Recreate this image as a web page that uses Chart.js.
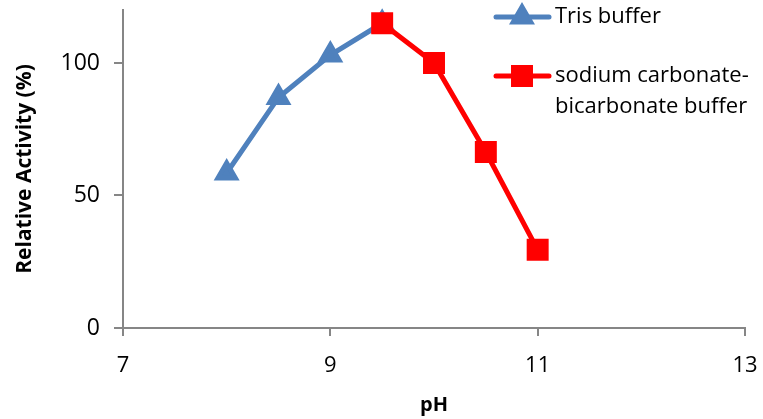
<!DOCTYPE html>
<html>
<head>
<meta charset="utf-8">
<script src="https://cdn.jsdelivr.net/npm/chart.js@4.4.0/dist/chart.umd.min.js"></script>
<style>
    html, body { margin: 0; padding: 0; background: #fff; }
    #wrap { width: 763px; height: 419px; position: relative; }
</style>
</head>
<body>
<div id="wrap"><canvas id="chartPH"></canvas></div>
<script>
// datos
const trisPH = [8, 8.5, 9, 9.5];
const trisActividad = [58.5, 87, 103, 115];
const carbPH = [9.5, 10, 10.5, 11];
const carbActividad = [115, 100, 66.4, 29.5];
const xTicks = [7, 9, 11, 13];
const yTicks = [0, 50, 100];
const etiquetas = ['Tris buffer', 'sodium carbonate-\nbicarbonate buffer'];

const FUENTE = '"Open Sans", Lato, sans-serif';
const GRIS = '#868686';

// leyenda dibujada dentro del area del grafico
const leyendaPlugin = {
    id: 'leyendaInterna',
    afterDraw(chart) {
        const ctx = chart.ctx;
        const filas = [17, 76];
        ctx.save();
        chart.data.datasets.forEach((ds, i) => {
            const y = filas[i];
            ctx.strokeStyle = ds.borderColor;
            ctx.lineWidth = 5;
            ctx.lineCap = 'round';
            ctx.beginPath();
            ctx.moveTo(496, y);
            ctx.lineTo(549, y);
            ctx.stroke();
            Chart.helpers.drawPoint(ctx, {
                pointStyle: ds.pointStyle,
                radius: ds.pointRadius,
                borderWidth: 1
            }, 522, y);
            ctx.fillStyle = ds.pointBackgroundColor;
            ctx.fill();
            ctx.fillStyle = '#000';
            ctx.font = '22px ' + FUENTE;
            ctx.textBaseline = 'middle';
            ds.label.split('\n').forEach((linea, j) => {
                ctx.fillText(linea, 555, y + j * 31);
            });
        });
        ctx.restore();
    }
};

new Chart(document.getElementById('chartPH'), {
    type: 'line',
    data: {
        datasets: [
            {
                label: etiquetas[0],
                data: trisPH.map((x, i) => ({ x: x, y: trisActividad[i] })),
                borderColor: '#4F81BD',
                backgroundColor: '#4F81BD',
                pointBackgroundColor: '#4F81BD',
                pointBorderColor: '#4F81BD',
                pointStyle: 'triangle',
                pointRadius: 10,
                borderWidth: 5,
                clip: false,
                order: 1
            },
            {
                label: etiquetas[1],
                data: carbPH.map((x, i) => ({ x: x, y: carbActividad[i] })),
                borderColor: '#FF0000',
                backgroundColor: '#FF0000',
                pointBackgroundColor: '#FF0000',
                pointBorderColor: '#FF0000',
                pointStyle: 'rect',
                pointRadius: 12,
                borderWidth: 5,
                clip: false,
                order: 0
            }
        ]
    },
    options: {
        responsive: true,
        maintainAspectRatio: false,
        animation: false,
        layout: {
            autoPadding: false,
            padding: { top: 10, right: 18, left: 0, bottom: 0 }
        },
        plugins: {
            legend: { display: false },
            tooltip: { enabled: false }
        },
        scales: {
            x: {
                type: 'linear',
                min: 7,
                max: 13,
                afterBuildTicks: (scale) => { scale.ticks = xTicks.map(v => ({ value: v })); },
                afterFit: (scale) => {
                    scale.height = 91;
                    scale.paddingLeft = 0;
                    scale.paddingRight = 0;
                },
                border: { display: true, color: GRIS, width: 2 },
                grid: { drawOnChartArea: false, color: GRIS, tickLength: 8, lineWidth: 2 },
                ticks: {
                    color: '#000',
                    font: { family: FUENTE, size: 22 },
                    padding: 17,
                    maxRotation: 0
                },
                title: {
                    display: true,
                    text: 'pH',
                    color: '#000',
                    font: { family: FUENTE, size: 20, weight: 'bold' },
                    padding: { top: 0, bottom: 2 }
                }
            },
            y: {
                min: 0,
                max: 120,
                afterBuildTicks: (scale) => { scale.ticks = yTicks.map(v => ({ value: v })); },
                afterFit: (scale) => {
                    scale.width = 123;
                    scale.paddingTop = 0;
                    scale.paddingBottom = 0;
                },
                border: { display: true, color: GRIS, width: 2 },
                grid: { drawOnChartArea: false, color: GRIS, tickLength: 9, lineWidth: 2 },
                ticks: {
                    color: '#000',
                    font: { family: FUENTE, size: 23 },
                    padding: 14
                },
                title: {
                    display: true,
                    text: 'Relative Activity (%)',
                    color: '#000',
                    font: { family: FUENTE, size: 21, weight: 'bold' },
                    padding: { top: 12, bottom: 4 }
                }
            }
        }
    },
    plugins: [leyendaPlugin]
});
</script>
</body>
</html>
